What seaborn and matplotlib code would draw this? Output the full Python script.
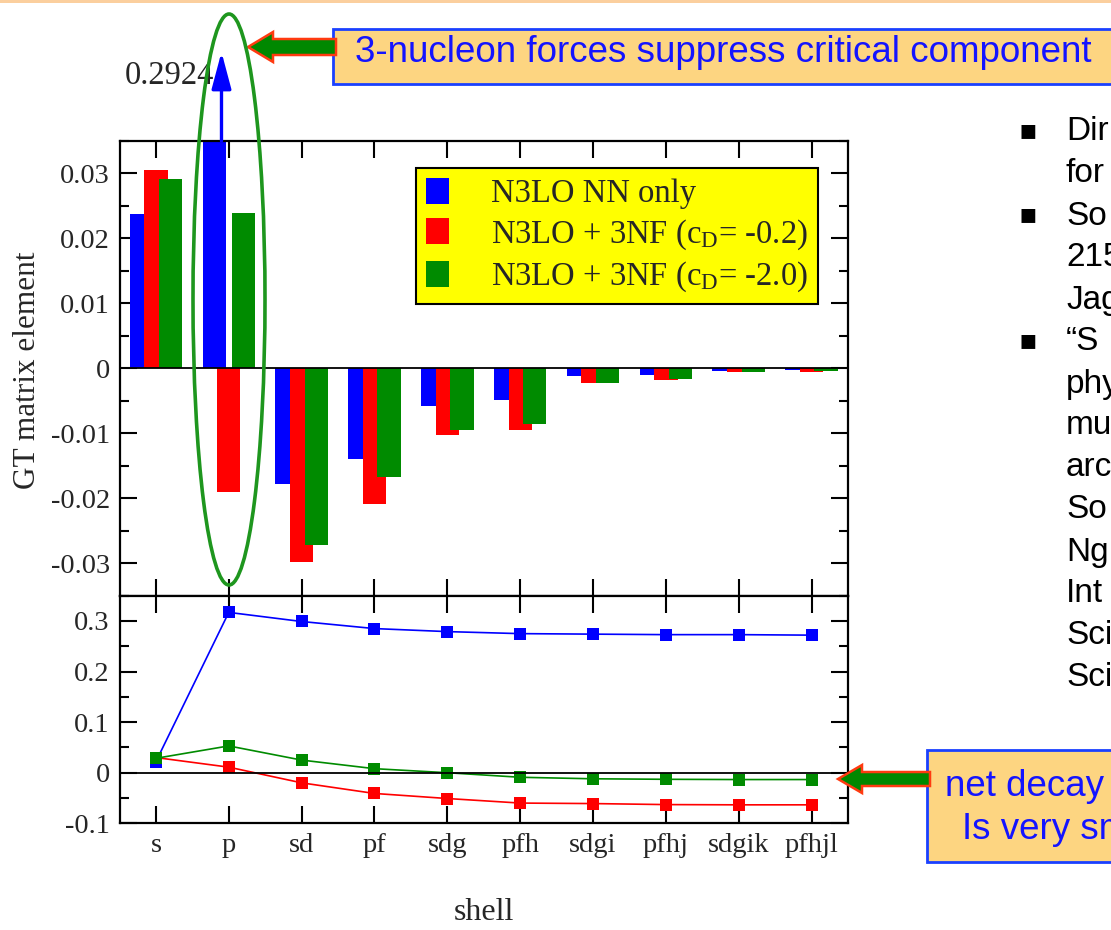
import numpy as np
import pandas as pd
import matplotlib
matplotlib.use("Agg")
import matplotlib.pyplot as plt
import seaborn as sns
from matplotlib.patches import Ellipse, Rectangle, Polygon, Patch
from matplotlib.ticker import MultipleLocator

# ---------------- data ----------------
shells = ["s", "p", "sd", "pf", "sdg", "pfh", "sdgi", "pfhj", "sdgik", "pfhjl"]
series_labels = ["N3LO NN only",
                 "N3LO + 3NF (c$_\\mathrm{D}$= -0.2)",
                 "N3LO + 3NF (c$_\\mathrm{D}$= -2.0)"]
gt_nn   = [0.0237, 0.2924, -0.0178, -0.0140, -0.0058, -0.0048, -0.0012, -0.0010, -0.0004, -0.0003]
gt_cd02 = [0.0305, -0.0191, -0.0298, -0.0209, -0.0102, -0.0095, -0.0023, -0.0018, -0.0006, -0.0005]
gt_cd20 = [0.0291, 0.0239, -0.0272, -0.0168, -0.0095, -0.0085, -0.0022, -0.0017, -0.0005, -0.0004]
sum_nn   = [0.022, 0.317, 0.299, 0.285, 0.279, 0.275, 0.274, 0.273, 0.273, 0.272]
sum_cd02 = [0.030, 0.011, -0.020, -0.041, -0.051, -0.060, -0.061, -0.063, -0.0635, -0.0635]
sum_cd20 = [0.0285, 0.053, 0.025, 0.008, 0.000, -0.009, -0.012, -0.013, -0.0135, -0.0135]
top_ticks = [-0.03, -0.02, -0.01, 0, 0.01, 0.02, 0.03]
top_ticklabels = ["-0.03", "-0.02", "-0.01", "0", "0.01", "0.02", "0.03"]
bot_ticks = [-0.1, 0, 0.1, 0.2, 0.3]
bot_ticklabels = ["-0.1", "0", "0.1", "0.2", "0.3"]
p_label = "0.2924"
callout_top = "3-nucleon forces suppress critical component"
callout_bottom = ["net decay", "Is very sm"]
right_lines = ["Dir", "for", "So", "215", "Jag", "\u201cS", "phy", "mu", "arc", "So", "Ng", "Int", "Sci", "Sci"]
right_bullets = [True, False, True, False, False, True, False, False, False, False, False, False, False, False]

colors = ["#0000ff", "#ff0000", "#008b00"]

# ---------------- style ----------------
sns.set_style("white")
plt.rcParams["font.family"] = ["Liberation Serif", "DejaVu Serif"]
plt.rcParams["mathtext.fontset"] = "custom"
plt.rcParams["mathtext.rm"] = "Liberation Serif"
plt.rcParams["mathtext.it"] = "Liberation Serif:italic"

W, H = 1111, 930
fig = plt.figure(figsize=(W / 100, H / 100), dpi=100)
fig.patch.set_facecolor("white")


def fx(x):
    return x / W


def fy(y):
    return 1 - y / H


ax1 = fig.add_axes([fx(119.5), fy(595.7), fx(848) - fx(119.5), fy(141) - fy(595.7)])
ax2 = fig.add_axes([fx(119.5), fy(823.3), fx(848) - fx(119.5), fy(595.7) - fy(823.3)])

pos = np.arange(1, len(shells) + 1)
offsets = [-0.2, 0.0, 0.2]
bar_series = [gt_nn, gt_cd02, gt_cd20]
line_series = [sum_nn, sum_cd02, sum_cd20]

for vals, off, c in zip(bar_series, offsets, colors):
    sns.barplot(x=pos + off, y=vals, native_scale=True, width=0.32, color=c,
                saturation=1, linewidth=0, errorbar=None, ax=ax1, zorder=2)

for vals, c in zip(line_series, colors):
    sns.lineplot(x=pos, y=vals, color=c, marker="s", markersize=8,
                 markeredgewidth=0, linewidth=1.2, ax=ax2, zorder=3)

for ax in (ax1, ax2):
    ax.set_xlim(0.5, 10.5)
    ax.axhline(0, color="black", lw=1.3, zorder=4)
    for s in ax.spines.values():
        s.set_linewidth(1.6)
        s.set_color("black")
        s.set_visible(True)
    ax.tick_params(which="both", direction="in", top=True, right=True,
                   bottom=True, left=True, width=1.5, color="black",
                   labelsize=20.5, pad=7)
    ax.tick_params(which="major", length=12.5)
    ax.tick_params(which="minor", length=6.5)
    ax.set_xticks(pos)
    ax.set_xlabel("")
    ax.set_ylabel("")
    ax.grid(False)

ax1.set_ylim(-0.035, 0.035)
ax1.set_yticks(top_ticks)
ax1.set_yticklabels(top_ticklabels)
ax1.yaxis.set_minor_locator(MultipleLocator(0.005))
ax1.set_xticklabels([])

ax2.set_ylim(-0.1, 0.35)
ax2.set_yticks(bot_ticks)
ax2.set_yticklabels(bot_ticklabels)
ax2.yaxis.set_minor_locator(MultipleLocator(0.05))
ax2.set_xticklabels(shells)

handles = [Patch(facecolor=c, edgecolor="none") for c in colors]
leg = ax1.legend(handles, series_labels, loc="upper right",
                 bbox_to_anchor=(0.9588, 0.9406), frameon=True,
                 facecolor="#ffff00", edgecolor="black", framealpha=1,
                 fancybox=False, fontsize=23.5, handlelength=0.7,
                 handleheight=0.85, handletextpad=1.3, labelspacing=0.25,
                 borderpad=0.3, borderaxespad=0)
leg.get_frame().set_linewidth(1.5)

# arrow for off-scale value
ax1.annotate("", xy=(1.9, 0.0487), xytext=(1.9, 0.035), xycoords="data",
             arrowprops=dict(arrowstyle="-|>,head_length=0.75,head_width=0.2",
                             color="#0000ff", lw=2.4, mutation_scale=30,
                             shrinkA=0, shrinkB=0),
             annotation_clip=False)
fig.text(fx(214), fy(76), p_label, ha="right", va="center", fontsize=23.5)

# axis titles
fig.text(fx(28), fy(370), "GT matrix element", rotation=90, ha="center",
         va="center", fontsize=22.5)
fig.text(fx(484), fy(912), "shell", ha="center", va="center", fontsize=23)

# ellipse highlight
fig.add_artist(Ellipse((fx(229), fy(299.5)), width=72 / W, height=571 / H,
                       transform=fig.transFigure, fill=False,
                       edgecolor="#1e961e", lw=2.6, zorder=10))

# slide top border
fig.add_artist(Rectangle((0, fy(3)), 1, 3 / H, transform=fig.transFigure,
                         facecolor="#fbcf9e", edgecolor="none"))


def fat_arrow(tip_x, y, head_back, tail_x, head_half, body_half):
    pts = [(tip_x, y), (head_back, y - head_half), (head_back, y - body_half),
           (tail_x, y - body_half), (tail_x, y + body_half),
           (head_back, y + body_half), (head_back, y + head_half)]
    pts = [(fx(px), fy(py)) for px, py in pts]
    fig.add_artist(Polygon(pts, closed=True, transform=fig.transFigure,
                           facecolor="#008800", edgecolor="#ff3a10", lw=1.8,
                           zorder=9))


sans = ["Liberation Sans", "DejaVu Sans"]
blue_txt = "#1414ff"
box_fc = "#fdd581"
box_ec = "#1a40ff"

# top callout
fat_arrow(248, 47, 273, 336, 15, 8)
fig.add_artist(Rectangle((fx(333), fy(84)), (1125 - 333) / W, 55 / H,
                         transform=fig.transFigure, facecolor=box_fc,
                         edgecolor=box_ec, lw=2, zorder=8))
fig.text(fx(355), fy(52), callout_top, family=sans, fontsize=26.5,
         color=blue_txt, ha="left", va="center", zorder=11)

# bottom callout
fat_arrow(838, 779, 862, 930, 14, 7)
fig.add_artist(Rectangle((fx(927), fy(862)), (1125 - 927) / W, 112 / H,
                         transform=fig.transFigure, facecolor=box_fc,
                         edgecolor=box_ec, lw=2, zorder=8))
fig.text(fx(945), fy(786), callout_bottom[0], family=sans, fontsize=26.5,
         color=blue_txt, ha="left", va="center", zorder=11)
fig.text(fx(962), fy(829), callout_bottom[1], family=sans, fontsize=26.5,
         color=blue_txt, ha="left", va="center", zorder=11)

# right-hand bullet text (cut off at slide edge, as in the source slide)
for i, (txt, b) in enumerate(zip(right_lines, right_bullets)):
    yy = 132 + 42 * i
    if b:
        fig.text(fx(1028), fy(yy - 2), "\u25aa", family=["DejaVu Sans"],
                 fontsize=20, ha="center", va="center", color="black")
    fig.text(fx(1066), fy(yy), txt, family=sans, fontsize=24,
             ha="left", va="center", color="black")

fig.savefig("out.png", dpi=100)
